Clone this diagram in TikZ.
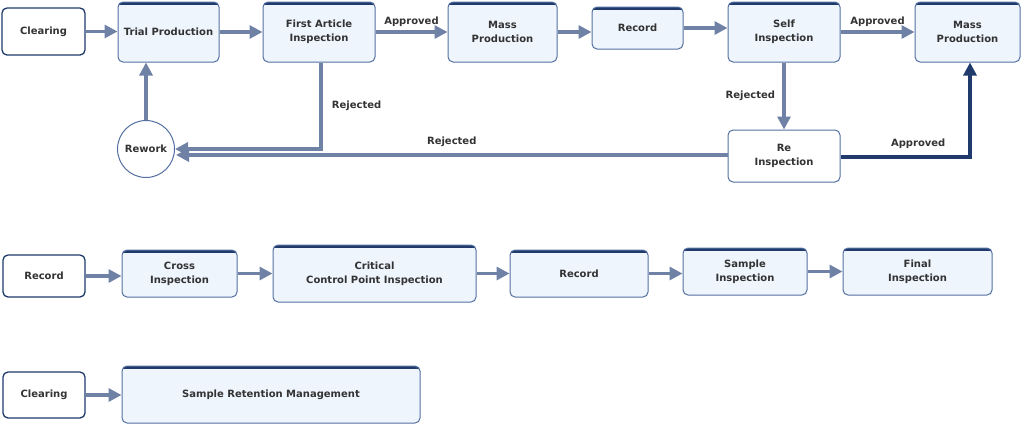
\documentclass[tikz,border=0pt]{standalone}
\usepackage{fontspec}
\setmainfont{DejaVu Sans}
\usetikzlibrary{arrows.meta,positioning}
\definecolor{navy}{HTML}{1F3A6B}
\definecolor{edgeblue}{HTML}{6F82A6}
\definecolor{boxfill}{HTML}{EEF5FD}
\definecolor{boxline}{HTML}{5470A0}
\definecolor{txt}{HTML}{333333}
\tikzset{
  stepbox/.style={draw=boxline,line width=1pt,fill=boxfill,rounded corners=5pt,
    align=center,font=\bfseries\fontsize{10}{14}\selectfont,text=txt,inner sep=2pt,
    path picture={\draw[navy,line width=6pt] (path picture bounding box.north west) -- (path picture bounding box.north east);}},
  startbox/.style={draw=navy,line width=1.3pt,fill=white,rounded corners=5pt,
    align=center,font=\bfseries\fontsize{10}{14}\selectfont,text=txt},
  flow/.style={-{Triangle[length=13pt,width=13pt]},edgeblue,line width=3.2pt},
  lbl/.style={font=\bfseries\fontsize{10}{12}\selectfont,text=txt}
}
\begin{document}
\begin{tikzpicture}[x=1pt,y=-1pt]
  \useasboundingbox (0,0) rectangle (1024,424);
  % first row
  \node[startbox,minimum width=83pt,minimum height=47pt] (clear1) at (43.5,31.5) {Clearing};
  \node[stepbox,minimum width=101pt,minimum height=60pt] (trial) at (168.5,32) {Trial Production};
  \node[stepbox,minimum width=112pt,minimum height=60pt] (fai) at (319,32) {First Article\\Inspection};
  \node[stepbox,minimum width=109pt,minimum height=60pt] (mass1) at (502.5,32) {Mass\\Production};
  \node[stepbox,minimum width=91pt,minimum height=42pt] (rec1) at (637.5,28) {Record};
  \node[stepbox,minimum width=112pt,minimum height=60pt] (self) at (784,32) {Self\\Inspection};
  \node[stepbox,minimum width=105pt,minimum height=60pt] (mass2) at (967.5,32) {Mass\\Production};
  \node[draw=boxline,line width=1pt,fill=white,circle,minimum size=57pt,
    font=\bfseries\fontsize{10}{14}\selectfont,text=txt] (rework) at (146,149) {Rework};
  \node[startbox,draw=boxline,line width=1pt,minimum width=112pt,minimum height=52pt] (reinsp) at (784,156) {Re\\Inspection};
  \coordinate (rwin) at (176,155);

  \draw[flow] (clear1) -- (trial.west |- clear1);
  \draw[flow] (trial) -- (fai);
  \draw[flow] (fai) -- node[lbl,above] {Approved} (mass1);
  \draw[flow] (mass1) -- (rec1.west |- mass1);
  \draw[flow] (rec1) -- (self.west |- rec1);
  \draw[flow] (self) -- node[lbl,above] {Approved} (mass2);
  \draw[flow] (rework) -- (trial.south -| rework);
  \draw[flow] (fai.south -| 321,0) |- node[lbl,pos=0.25,right=6pt] {Rejected} (rework.east);
  \draw[flow] (reinsp.west |- rwin) -- node[lbl,above=3pt] {Rejected} (rwin);
  \draw[flow] (self) -- node[lbl,left=4pt] {Rejected} (reinsp);
  \draw[flow,navy] (reinsp.east |- 0,157) -| node[lbl,pos=0.3,above=3pt] {Approved} (mass2.south -| 970,0);

  % second row
  \node[startbox,minimum width=82pt,minimum height=42pt] (rec2) at (44,276) {Record};
  \node[stepbox,minimum width=115pt,minimum height=47pt] (cross) at (179.5,273.5) {Cross\\Inspection};
  \node[stepbox,minimum width=203pt,minimum height=57pt] (ccp) at (374.5,273.5) {Critical\\Control Point Inspection};
  \node[stepbox,minimum width=138pt,minimum height=47pt] (rec3) at (579,273.5) {Record};
  \node[stepbox,minimum width=124pt,minimum height=47pt] (sample) at (745,271.5) {Sample\\Inspection};
  \node[stepbox,minimum width=149pt,minimum height=47pt] (final) at (917.5,271.5) {Final\\Inspection};

  \draw[flow] (rec2) -- (cross.west |- rec2);
  \draw[flow] (cross) -- (ccp.west |- cross);
  \draw[flow] (ccp) -- (rec3.west |- ccp);
  \draw[flow] (rec3) -- (sample.west |- rec3);
  \draw[flow] (sample) -- (final);

  % third row
  \node[startbox,minimum width=82pt,minimum height=46pt] (clear2) at (44,395) {Clearing};
  \node[stepbox,minimum width=298pt,minimum height=57pt] (retain) at (271,394.5) {Sample Retention Management};
  \draw[flow] (clear2) -- (retain.west |- clear2);
\end{tikzpicture}
\end{document}
